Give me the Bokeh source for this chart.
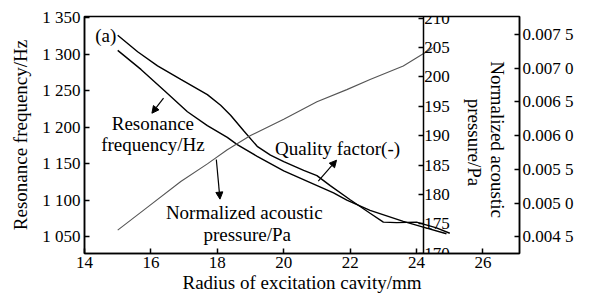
import math
from bokeh.plotting import figure
from bokeh.models import Range1d, LinearAxis, FixedTicker, Arrow, NormalHead
from bokeh.core.properties import value
from bokeh.embed import file_html
from bokeh.resources import INLINE

# ---- data ----
radius_freq = [15.0, 15.7, 16.4, 17.1, 17.7, 18.3, 18.6, 19.2, 20.0, 20.8, 21.5, 21.9, 22.6, 23.6, 24.2, 24.9]
resonance_freq = [1305, 1279, 1250, 1221, 1202, 1186, 1176, 1160, 1140, 1124, 1110, 1100, 1086, 1071, 1063, 1054]

radius_q = [15.0, 15.6, 16.2, 16.9, 17.7, 18.1, 18.4, 18.8, 19.2, 19.6, 20.0, 20.6, 21.0, 21.4, 22.0, 22.6, 23.0, 23.4, 24.0, 24.6, 25.0]
quality_factor = [207.1, 204.3, 201.9, 199.6, 197.0, 195.2, 193.5, 190.8, 188.2, 186.7, 185.6, 184.1, 183.2, 181.5, 179.1, 176.8, 175.3, 175.2, 175.3, 174.3, 173.4]

radius_p = [15.0, 15.9, 16.9, 17.7, 18.3, 19.0, 20.0, 21.0, 21.9, 22.6, 23.6, 24.2, 24.5]
pressure = [0.00460, 0.00494, 0.00532, 0.00558, 0.00579, 0.00600, 0.00624, 0.00650, 0.00668, 0.00683, 0.00703, 0.00721, 0.00730]

x_ticks = [14, 16, 18, 20, 22, 24, 26]
freq_ticks = [1050, 1100, 1150, 1200, 1250, 1300, 1350]
freq_labels = ["1 050", "1 100", "1 150", "1 200", "1 250", "1 300", "1 350"]
q_ticks = [170, 175, 180, 185, 190, 195, 200, 205, 210]
p_ticks = [0.0045, 0.0050, 0.0055, 0.0060, 0.0065, 0.0070, 0.0075]
p_labels = ["0.004 5", "0.005 0", "0.005 5", "0.006 0", "0.006 5", "0.007 0", "0.007 5"]

x_title = "Radius of excitation cavity/mm"
freq_title = "Resonance frequency/Hz"
panel_tag = "(a)"
label_freq = ["Resonance", "frequency/Hz"]
label_q = "Quality factor(-)"
label_p = ["Normalized acoustic", "pressure/Pa"]

FONT = "Liberation Serif"
TICK_SIZE = "17px"
TITLE_SIZE = "19px"
NOTE_SIZE = "19px"

p = figure(width=576, height=295, output_backend="svg", toolbar_location=None,
           x_range=Range1d(14, 27.1), y_range=Range1d(1027, 1351.4),
           min_border_left=84, min_border_right=54, min_border_top=16, min_border_bottom=40)
p.extra_y_ranges = {"q": Range1d(169.95, 210.3), "p": Range1d(0.004253, 0.007763)}
p.grid.visible = False
p.background_fill_color = "white"
p.border_fill_color = "white"
p.outline_line_color = "black"
p.outline_line_width = 1.5
p.outline_line_alpha = 1.0


def style(ax, standoff):
    ax.axis_line_color = "black"
    ax.axis_line_width = 1.5
    ax.major_tick_in = 5
    ax.major_tick_out = 0
    ax.major_tick_line_color = "black"
    ax.major_tick_line_width = 1.5
    ax.minor_tick_line_color = None
    ax.major_label_text_font = FONT
    ax.major_label_text_font_size = TICK_SIZE
    ax.major_label_text_color = "black"
    ax.major_label_standoff = standoff
    ax.axis_label_text_font = FONT
    ax.axis_label_text_font_size = TITLE_SIZE
    ax.axis_label_text_font_style = "normal"
    ax.axis_label_text_color = "black"


xa = p.xaxis[0]
xa.ticker = FixedTicker(ticks=x_ticks)
xa.axis_label = x_title
style(xa, 3)
xa.axis_label_standoff = 1

ya = p.yaxis[0]
ya.ticker = FixedTicker(ticks=freq_ticks)
ya.major_label_overrides = dict(zip(freq_ticks, freq_labels))
ya.axis_label = freq_title
style(ya, 4)
ya.axis_label_standoff = 8

outer = LinearAxis(y_range_name="p", ticker=FixedTicker(ticks=p_ticks),
                   major_label_overrides=dict(zip(p_ticks, p_labels)))
style(outer, 3)
p.add_layout(outer, "right")

inner = LinearAxis(y_range_name="q", ticker=FixedTicker(ticks=q_ticks), fixed_location=24.2)
style(inner, 1)
p.add_layout(inner, "right")

# ---- curves ----
p.line(radius_freq, resonance_freq, line_color="black", line_width=1.4)
p.line(radius_q, quality_factor, y_range_name="q", line_color="black", line_width=1.4)
p.line(radius_p, pressure, y_range_name="p", line_color="#555555", line_width=1.1)

# ---- annotations ----
txt = dict(text_font=value(FONT), text_font_size=value(NOTE_SIZE), text_color="black")
p.text(x=[14.32], y=[1326], text=[panel_tag], text_align="left", text_baseline="middle", **txt)
p.text(x=[16.06, 16.06], y=[1204.7, 1176], text=label_freq, text_align="center", text_baseline="middle", **txt)
p.text(x=[21.62], y=[1171.4], text=[label_q], text_align="center", text_baseline="middle", **txt)
p.text(x=[18.81, 18.9], y=[1083, 1053], text=label_p, text_align="center", text_baseline="middle", **txt)
p.text(x=[26.44, 25.74], y=[1183, 1179], text=label_p, angle=-math.pi / 2,
       text_align="center", text_baseline="middle", **txt)

for xs, ys, xe, ye in [(16.38, 1239.6, 16.03, 1219.0),
                       (17.97, 1155.7, 18.08, 1101.4),
                       (21.04, 1126.1, 21.59, 1154.7)]:
    p.add_layout(Arrow(end=NormalHead(size=7, fill_color="black", line_color="black"),
                       x_start=xs, y_start=ys, x_end=xe, y_end=ye,
                       line_color="black", line_width=1.2))

open("out.html", "w").write(file_html(p, INLINE))
